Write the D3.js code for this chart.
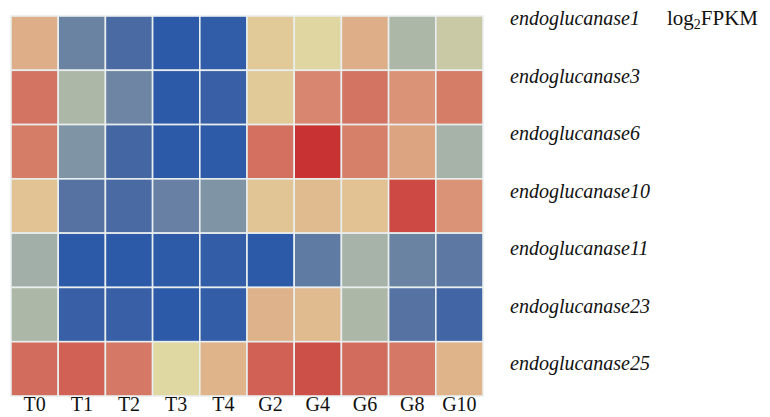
<!DOCTYPE html>
<html><head><meta charset="utf-8">
<script src="https://cdn.jsdelivr.net/npm/d3@7"></script>
<style>body{margin:0;background:#fff}svg{display:block}text{font-family:"Liberation Serif","Times New Roman",Times,serif}</style>
</head><body>
<script>
const samples = ["T0","T1","T2","T3","T4","G2","G4","G6","G8","G10"];
const genes = ["endoglucanase1","endoglucanase3","endoglucanase6","endoglucanase10","endoglucanase11","endoglucanase23","endoglucanase25"];
// estimated log2FPKM-like scaled values (0 = lowest/blue, 9 = highest/red)
const endoglucanase1  = [6.0, 1.9, 1.0, 0.0, 0.1, 4.7, 4.1, 6.0, 3.1, 3.6];
const endoglucanase3  = [7.8, 3.1, 2.0, 0.0, 0.4, 4.7, 7.2, 7.8, 6.8, 7.5];
const endoglucanase6  = [7.5, 2.3, 0.8, 0.0, 0.05, 7.9, 9.0, 7.4, 6.3, 3.0];
const endoglucanase10 = [5.0, 1.3, 1.0, 1.8, 2.3, 4.9, 5.4, 5.1, 8.6, 6.8];
const endoglucanase11 = [2.9, 0.0, 0.0, 0.05, 0.2, 0.0, 1.6, 3.0, 1.9, 1.5];
const endoglucanase23 = [3.1, 0.4, 0.4, 0.0, 0.2, 5.8, 5.4, 3.1, 1.3, 0.7];
const endoglucanase25 = [8.0, 8.2, 7.6, 4.0, 5.7, 8.2, 8.5, 8.0, 7.6, 5.7];
const rows = [endoglucanase1,endoglucanase3,endoglucanase6,endoglucanase10,endoglucanase11,endoglucanase23,endoglucanase25];
const legendTitle = "FPKM";

const W = 770, H = 417;
const svg = d3.select("body").append("svg").attr("width", W).attr("height", H);

const x = d3.scaleBand().domain(samples).range([11, 483]).padding(0);
const y = d3.scaleBand().domain(genes).range([16, 396]).padding(0);
const yLab = d3.scalePoint().domain(genes).range([25, 370]);

const color = d3.scaleLinear()
  .domain([0,1,2,3,4,5,6,7,8,9])
  .range(["#2d5aa8","#4a6aa3","#6e86a3","#a7b3a9","#e0d8a2","#e2c394","#ddae87","#d98c73","#d26d5d","#c83232"])
  .clamp(true);

const cells = [];
genes.forEach((g,i)=>samples.forEach((s,j)=>cells.push({g,s,v:rows[i][j]})));

svg.append("g").selectAll("rect").data(cells).join("rect")
  .attr("x", d=>x(d.s)).attr("y", d=>y(d.g))
  .attr("width", x.bandwidth()).attr("height", y.bandwidth())
  .attr("fill", d=>color(d.v))
  .attr("stroke", "#e9eeee").attr("stroke-width", 1.6);

// column labels
svg.append("g").selectAll("text").data(samples).join("text")
  .attr("x", d=>x(d)+x.bandwidth()/2).attr("y", 411)
  .attr("text-anchor","middle")
  .style("font-size","20px").attr("fill","#111")
  .text(d=>d);

// row labels
svg.append("g").selectAll("text").data(genes).join("text")
  .attr("x", 510).attr("y", d=>yLab(d))
  .style("font-style","italic")
  .style("font-size","20px").attr("fill","#111")
  .text(d=>d);

// legend title log2FPKM
const t = svg.append("text").attr("x", 667).attr("y", 25)
  .style("font-size","21px").attr("fill","#111");
t.append("tspan").text("log");
t.append("tspan").style("font-size","14px").attr("dy",4).text("2");
t.append("tspan").attr("dy",-4).text(legendTitle);
</script>
</body></html>
